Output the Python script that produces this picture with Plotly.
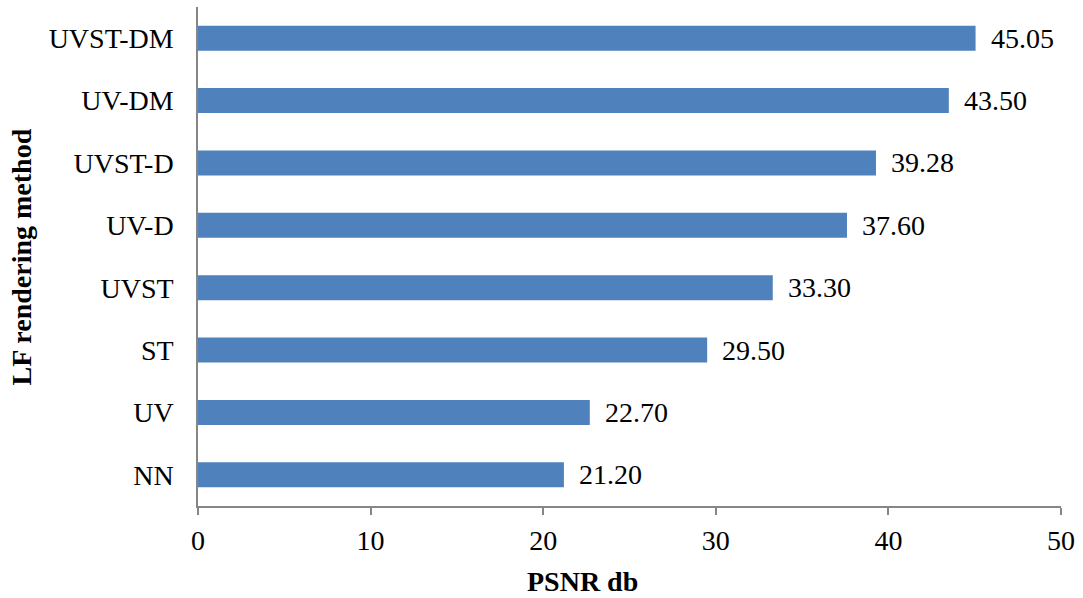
import plotly.graph_objects as go

categories = ["NN", "UV", "ST", "UVST", "UV-D", "UVST-D", "UV-DM", "UVST-DM"]
psnr = [21.20, 22.70, 29.50, 33.30, 37.60, 39.28, 43.50, 45.05]
x_ticks = [0, 10, 20, 30, 40, 50]

FONT = "Liberation Serif, Times New Roman, serif"
BAR = "#4F81BD"
AXIS = "#868686"
FS = 28

fig = go.Figure()
fig.add_trace(go.Bar(
    y=categories, x=psnr, orientation="h",
    marker=dict(color=BAR, line=dict(width=0)),
    width=0.4,
))

for c, v in zip(categories, psnr):
    fig.add_annotation(x=v, y=c, text=f"{v:.2f}", showarrow=False,
                       xanchor="left", yanchor="middle", xshift=13,
                       font=dict(family=FONT, size=FS, color="black"))

fig.add_annotation(x=0.446, xref="paper", y=-0.152, yref="paper",
                   text="<b>PSNR db</b>", showarrow=False,
                   xanchor="center", yanchor="middle",
                   font=dict(family=FONT, size=FS, color="black"))
fig.add_annotation(x=-0.204, xref="paper", y=0.5, yref="paper",
                   text="<b>LF rendering method</b>", showarrow=False,
                   textangle=-90, xanchor="center", yanchor="middle",
                   font=dict(family=FONT, size=FS, color="black"))

fig.update_layout(
    width=1083, height=598,
    margin=dict(l=198, r=22, t=7, b=92),
    paper_bgcolor="white", plot_bgcolor="white",
    showlegend=False,
    font=dict(family=FONT, size=FS, color="black"),
    bargap=0.6,
)
fig.update_xaxes(
    range=[0, 50], tickvals=x_ticks, ticktext=[str(t) for t in x_ticks],
    showgrid=False, zeroline=False,
    showline=True, linecolor=AXIS, linewidth=1.5,
    ticks="outside", ticklen=7, tickcolor=AXIS, tickwidth=1.5,
    ticklabelstandoff=2,
    tickfont=dict(family=FONT, size=FS, color="black"),
)
fig.update_yaxes(
    categoryorder="array", categoryarray=categories,
    showgrid=False, zeroline=False,
    showline=True, linecolor=AXIS, linewidth=1.5,
    ticks="", ticklabelstandoff=17,
    tickfont=dict(family=FONT, size=FS, color="black"),
)

fig.write_html("out.html")
